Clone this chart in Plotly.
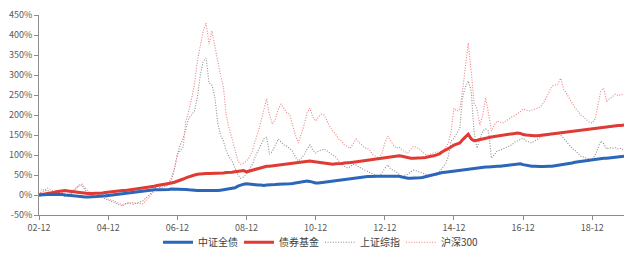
import pandas as pd
import plotly.graph_objects as go

start = "2002-12-01"
n_months = 204

# 中证全债 (%)
bond_index = [0, 0, 1, 1, 2, 2, 2, 2, 1, 0, 0, -1, -2, -3, -3, -4, -5, -5, -5, -4,
              -4, -3, -3, -2, -1, 0, 1, 2, 3, 4, 5, 6, 7, 8, 9, 10, 10, 11, 12, 12,
              13, 13, 13, 14, 14, 14, 15, 15, 15, 14, 14, 14, 13, 13, 12, 11, 11, 10, 10, 10,
              10, 11, 11, 12, 13, 14, 15, 16, 18, 22, 25, 27, 28, 27, 26, 25, 25, 25, 24, 25,
              25, 26, 26, 27, 27, 27, 28, 28, 29, 30, 31, 32, 34, 35, 34, 31, 30, 30, 31, 31,
              32, 33, 34, 35, 37, 38, 39, 40, 41, 42, 43, 44, 45, 45, 46, 46, 47, 47, 47, 47,
              47, 48, 48, 48, 48, 47, 45, 43, 42, 42, 42, 42, 43, 44, 46, 48, 50, 51, 53, 55,
              56, 57, 58, 59, 60, 61, 62, 63, 64, 65, 66, 67, 67, 68, 69, 70, 70, 71, 71, 72,
              72, 73, 74, 75, 76, 77, 78, 78, 76, 74, 73, 72, 72, 71, 71, 71, 72, 72, 72, 73,
              74, 75, 76, 77, 79, 80, 82, 83, 84, 85, 87, 88, 89, 90, 90, 91, 92, 92, 93, 94,
              95, 95, 96, 97]

# 债券基金 (%)
bond_fund = [0, 1, 2, 3, 4, 6, 8, 9, 10, 11, 10, 9, 8, 7, 6, 5, 5, 4, 4, 4,
             4, 5, 5, 6, 7, 8, 9, 10, 10, 11, 11, 12, 13, 14, 15, 16, 17, 18, 19, 20,
             22, 24, 25, 26, 27, 28, 30, 32, 34, 37, 40, 43, 46, 48, 50, 52, 53, 54, 54, 54,
             54, 55, 55, 55, 55, 56, 56, 57, 58, 59, 60, 61, 58, 60, 62, 64, 66, 68, 70, 72,
             72, 73, 74, 75, 76, 77, 77, 78, 79, 80, 80, 81, 82, 83, 85, 84, 83, 82, 81, 80,
             78, 77, 77, 78, 78, 79, 80, 80, 81, 82, 83, 84, 85, 86, 87, 88, 90, 91, 92, 93,
             94, 95, 96, 97, 97, 98, 97, 95, 93, 92, 92, 92, 92, 93, 94, 96, 97, 98, 100, 103,
             108, 112, 115, 120, 125, 128, 130, 138, 145, 152, 140, 136, 137, 139, 140, 142, 144, 145, 146, 147,
             148, 149, 150, 151, 152, 153, 155, 154, 151, 150, 149, 148, 148, 148, 149, 150, 151, 152, 153, 154,
             155, 156, 157, 158, 159, 160, 161, 162, 163, 164, 165, 166, 167, 167, 168, 169, 170, 171, 172, 172,
             173, 174, 174, 175]

# 上证综指 (%)
sse = [0, 8, 10, 12, 5, 3, 0, 2, 0, -3, -2, 2, 10, 18, 24, 25, 12, 5, 0, -2,
       -2, -5, -6, -10, -12, -15, -18, -22, -24, -27, -22, -20, -22, -23, -20, -18, -15, -8, -2, 5,
       15, 22, 18, 20, 22, 28, 38, 65, 100, 125, 142, 165, 192, 200, 210, 245, 300, 335, 342, 280,
       275, 245, 180, 150, 135, 110, 95, 85, 65, 50, 42, 45, 52, 65, 77, 95, 110, 125, 140, 145,
       102, 110, 125, 140, 132, 125, 122, 117, 110, 95, 85, 92, 100, 115, 125, 112, 105, 110, 112, 115,
       110, 105, 100, 95, 85, 78, 72, 68, 70, 77, 75, 70, 66, 62, 58, 55, 50, 48, 47, 55,
       67, 75, 65, 62, 58, 52, 45, 50, 52, 58, 62, 60, 57, 55, 52, 50, 52, 52, 50, 58,
       68, 77, 95, 135, 142, 155, 167, 242, 270, 285, 260, 160, 117, 140, 160, 165, 160, 92, 100, 110,
       112, 115, 117, 120, 125, 132, 135, 140, 142, 135, 132, 130, 135, 140, 145, 148, 147, 150, 152, 155,
       155, 150, 142, 135, 125, 117, 112, 105, 97, 95, 92, 90, 88, 100, 120, 135, 128, 115, 118, 117,
       118, 115, 117, 112]

# 沪深300 (%)
csi300 = [0, 15, 12, 17, 13, 10, 8, 5, 6, 3, 2, 5, 12, 20, 25, 27, 18, 10, 5, 2,
          3, 0, -2, -6, -10, -12, -15, -18, -22, -25, -22, -20, -18, -20, -21, -22, -22, -15, -7, 2,
          10, 22, 20, 24, 22, 30, 45, 67, 102, 110, 120, 185, 210, 242, 277, 335, 370, 410, 430, 377,
          410, 367, 335, 300, 270, 200, 165, 142, 110, 85, 77, 80, 85, 95, 110, 135, 155, 185, 215, 240,
          200, 177, 190, 215, 227, 215, 205, 202, 175, 150, 130, 150, 175, 205, 217, 195, 185, 195, 202, 200,
          185, 170, 160, 152, 140, 135, 125, 120, 117, 128, 140, 132, 125, 118, 117, 110, 100, 95, 92, 105,
          130, 147, 135, 125, 117, 120, 112, 108, 105, 115, 122, 118, 115, 108, 102, 100, 103, 105, 108, 107,
          110, 118, 130, 160, 217, 210, 215, 260, 320, 380, 310, 230, 215, 175, 200, 242, 205, 160, 175, 185,
          182, 180, 185, 190, 195, 198, 202, 208, 215, 212, 210, 212, 215, 217, 220, 230, 242, 258, 272, 275,
          277, 292, 265, 255, 242, 230, 218, 210, 200, 195, 188, 182, 180, 190, 227, 260, 267, 235, 240, 245,
          252, 248, 252, 250]

tick_labels = ["02-12", "04-12", "06-12", "08-12", "10-12", "12-12", "14-12", "16-12", "18-12"]
y_ticks = [-50, 0, 50, 100, 150, 200, 250, 300, 350, 400, 450]

dates = pd.date_range(start, periods=n_months, freq="MS")
for s in (bond_index, bond_fund, sse, csi300):
    assert len(s) == n_months, len(s)

tick_dates = [dates[0] + pd.DateOffset(months=24 * i) for i in range(len(tick_labels))]

fig = go.Figure()
fig.add_trace(go.Scatter(x=dates, y=sse, name="上证综指", mode="lines",
                         line=dict(color="#8c8c8c", width=1.1, dash="1px,1.6px"), legendrank=3))
fig.add_trace(go.Scatter(x=dates, y=csi300, name="沪深300", mode="lines",
                         line=dict(color="#f07f7f", width=1.1, dash="1px,1.6px"), legendrank=4))
fig.add_trace(go.Scatter(x=dates, y=bond_fund, name="债券基金", mode="lines",
                         line=dict(color="#e03a35", width=3), legendrank=2))
fig.add_trace(go.Scatter(x=dates, y=bond_index, name="中证全债", mode="lines",
                         line=dict(color="#2b66b8", width=3), legendrank=1))

font_family = "Noto Sans CJK SC, Noto Sans, sans-serif"
fig.update_layout(
    width=640, height=255,
    margin=dict(l=39, r=16, t=15, b=40, autoexpand=False),
    paper_bgcolor="white", plot_bgcolor="white",
    font=dict(family=font_family, size=9, color="#595959"),
    showlegend=True,
    legend=dict(orientation="h", xref="container", yref="container",
                x=0.5, xanchor="center", y=0.05, yanchor="middle",
                font=dict(size=10, color="#404040"),
                itemwidth=30, tracegroupgap=0, bgcolor="rgba(0,0,0,0)",
                entrywidth=36, entrywidthmode="pixels"),
    xaxis=dict(type="date", range=[dates[0], dates[-1]],
               tickvals=tick_dates, ticktext=tick_labels,
               showgrid=False, zeroline=False,
               showline=True, linecolor="#8c8c8c", linewidth=1,
               ticks="outside", ticklen=4, tickcolor="#8c8c8c",
               tickfont=dict(size=9, color="#595959"), automargin=False),
    yaxis=dict(range=[-50, 450], tickvals=y_ticks,
               ticktext=[f"{v}%" for v in y_ticks],
               showgrid=False, zeroline=False,
               showline=True, linecolor="#8c8c8c", linewidth=1,
               ticks="outside", ticklen=4, tickcolor="#8c8c8c",
               tickfont=dict(size=9, color="#595959"), automargin=False),
)

fig.write_html("out.html")
